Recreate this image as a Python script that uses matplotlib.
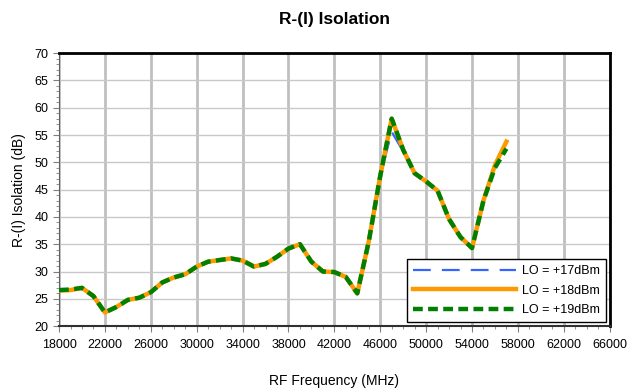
import numpy as np
import matplotlib
matplotlib.use("Agg")
import matplotlib.pyplot as plt
from matplotlib.ticker import MultipleLocator, FixedLocator

plt.rcParams['font.family'] = ['Liberation Sans', 'DejaVu Sans']

# RF frequency (MHz) and isolation (dB) for each LO drive level
freq = [18000, 19000, 20000, 21000, 22000, 23000, 24000, 25000, 26000, 27000,
        28000, 29000, 30000, 31000, 32000, 33000, 34000, 35000, 36000, 37000,
        38000, 39000, 40000, 41000, 42000, 43000, 44000, 45000, 46000, 47000,
        48000, 49000, 50000, 51000, 52000, 53000, 54000, 55000, 56000, 57000]

iso_17 = [26.4, 26.6, 27.0, 25.5, 22.4, 23.5, 24.8, 25.2, 26.2, 28.0,
          28.9, 29.5, 30.9, 31.8, 32.1, 32.4, 32.0, 30.9, 31.4, 32.7,
          34.2, 35.0, 31.8, 30.0, 29.9, 29.0, 26.0, 35.5, 47.5, 55.6,
          52.0, 48.0, 46.5, 44.8, 39.6, 36.3, 34.3, 43.0, 49.5, 53.8]

iso_18 = [26.5, 26.6, 27.0, 25.5, 22.5, 23.5, 24.8, 25.2, 26.2, 28.0,
          28.9, 29.5, 30.9, 31.8, 32.1, 32.4, 32.0, 30.9, 31.4, 32.7,
          34.2, 35.0, 31.8, 30.0, 29.9, 29.0, 26.0, 35.5, 47.5, 58.0,
          52.3, 48.0, 46.5, 44.8, 39.6, 36.3, 34.3, 43.0, 49.5, 53.8]

iso_19 = [26.6, 26.7, 27.0, 25.5, 22.5, 23.5, 24.8, 25.2, 26.2, 28.0,
          28.9, 29.5, 30.9, 31.8, 32.1, 32.4, 32.0, 30.9, 31.4, 32.7,
          34.2, 35.0, 31.8, 30.0, 29.9, 29.0, 26.0, 35.5, 47.5, 58.0,
          52.3, 48.0, 46.5, 44.8, 39.6, 36.3, 34.3, 43.0, 49.0, 52.5]

x_ticks = [18000, 22000, 26000, 30000, 34000, 38000, 42000, 46000,
           50000, 54000, 58000, 62000, 66000]

labels = ['LO = +17dBm', 'LO = +18dBm', 'LO = +19dBm']

fig = plt.figure(figsize=(6.3, 3.91), dpi=100)
ax = fig.add_axes([0.0937, 0.166, 0.874, 0.698])

ax.plot(freq, iso_17, color='#3366ff', lw=1.6, dashes=(8, 5), label=labels[0], zorder=3)
ax.plot(freq, iso_18, color='#ff9900', lw=3.2, label=labels[1], zorder=4)
ax.plot(freq, iso_19, color='#008000', lw=3.2, dashes=(2.2, 1.2), label=labels[2], zorder=5)

ax.set_xlim(18000, 66000)
ax.set_ylim(20, 70)
ax.xaxis.set_major_locator(FixedLocator(x_ticks))
ax.xaxis.set_minor_locator(MultipleLocator(1000))
ax.yaxis.set_major_locator(MultipleLocator(5))
ax.yaxis.set_minor_locator(MultipleLocator(1))

ax.grid(True, axis='x', which='major', color='#c0c0c0', lw=2.0, zorder=1)
ax.grid(True, axis='y', which='major', color='#c8c8c8', lw=1.0, zorder=1)
ax.set_axisbelow(True)

ax.tick_params(axis='both', which='major', labelsize=9, length=4, color='#808080')
ax.tick_params(axis='both', which='minor', length=2, color='#808080')
ax.tick_params(axis='x', pad=5)

ax.spines['top'].set_linewidth(2.0)
ax.spines['right'].set_linewidth(2.0)
ax.spines['left'].set_color('#606060')
ax.spines['bottom'].set_color('#303030')
ax.spines['bottom'].set_linewidth(1.5)

ax.set_title('R-(I) Isolation', fontsize=12.5, fontweight='bold', pad=21)
ax.set_xlabel('RF Frequency (MHz)', fontsize=10, labelpad=17)
ax.set_ylabel('R-(I) Isolation (dB)', fontsize=10, labelpad=6)

leg = ax.legend(loc='lower right', fontsize=9, fancybox=False, framealpha=1,
                edgecolor='black', handlelength=8.2, handletextpad=0.5,
                borderpad=0.5, borderaxespad=0.3, labelspacing=0.6)
leg.get_frame().set_linewidth(1.0)

fig.savefig('out.png', dpi=100)
